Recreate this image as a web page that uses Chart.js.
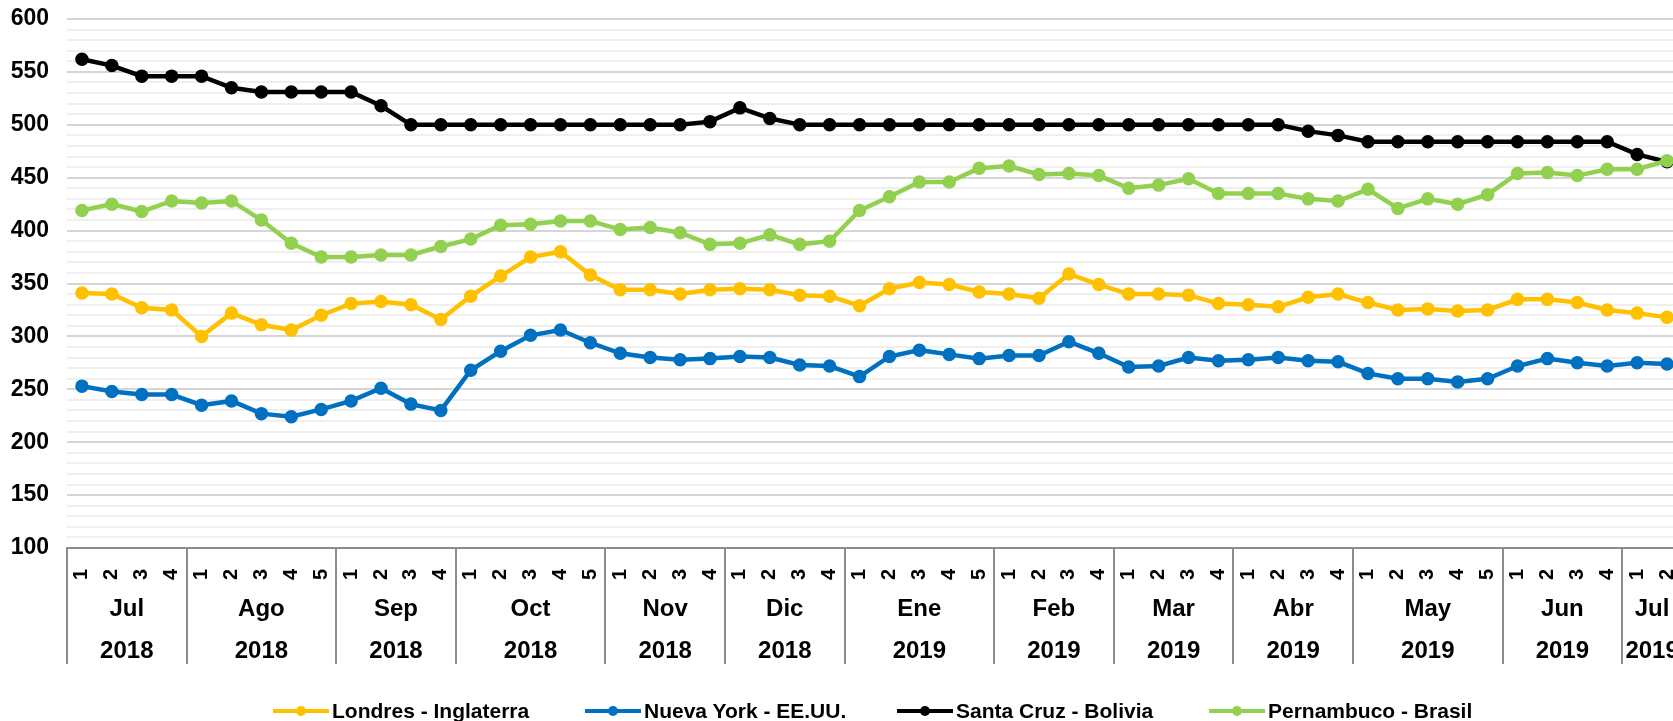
<!DOCTYPE html>
<html lang="es">
<head>
<meta charset="utf-8">
<title>Precios semanales</title>
<script src="https://cdn.jsdelivr.net/npm/chart.js@4.4.1/dist/chart.umd.min.js"></script>
<style>
    html, body { margin: 0; padding: 0; background: #fff; overflow: hidden; }
    #contenedor { position: relative; width: 1733px; height: 721px; }
    #leyenda {
        position: absolute; left: 273px; top: 699px; display: flex;
        font: bold 21px "Liberation Sans", Arial, sans-serif; color: #000;
    }
    .item { width: 312px; height: 24px; display: flex; align-items: center; white-space: nowrap; }
    .muestra { position: relative; width: 56px; height: 4px; margin-right: 3px; }
    .muestra span { position: absolute; left: 23px; top: -3px; width: 10px; height: 10px; border-radius: 50%; }
</style>
</head>
<body>
<div id="contenedor">
    <canvas id="graficoPrecios"></canvas>
    <div id="leyenda"></div>
</div>
<script>
// semanas de cada mes (eje de categorías)
const semanas = [
    '1','2','3','4',
    '1','2','3','4','5',
    '1','2','3','4',
    '1','2','3','4','5',
    '1','2','3','4',
    '1','2','3','4',
    '1','2','3','4','5',
    '1','2','3','4',
    '1','2','3','4',
    '1','2','3','4',
    '1','2','3','4','5',
    '1','2','3','4',
    '1','2'
];
const meses = ['Jul', 'Ago', 'Sep', 'Oct', 'Nov', 'Dic', 'Ene', 'Feb', 'Mar', 'Abr', 'May', 'Jun', 'Jul'];
const anios = ['2018', '2018', '2018', '2018', '2018', '2018', '2019', '2019', '2019', '2019', '2019', '2019', '2019'];
const semanasPorMes = [4, 5, 4, 5, 4, 4, 5, 4, 4, 4, 5, 4, 2];

const londres = [341, 340, 327, 325, 300, 322, 311, 306, 320, 331, 333, 330, 316,
    338, 357, 375, 380, 358, 344, 344, 340, 344, 345, 344, 339, 338,
    329, 345, 351, 349, 342, 340, 336, 359, 349, 340, 340, 339, 331,
    330, 328, 337, 340, 332, 325, 326, 324, 325, 335, 335, 332, 325, 322, 318];
const nuevaYork = [253, 248, 245, 245, 235, 239, 227, 224, 231, 239, 251, 236, 230,
    268, 286, 301, 306, 294, 284, 280, 278, 279, 281, 280, 273, 272,
    262, 281, 287, 283, 279, 282, 282, 295, 284, 271, 272, 280, 277,
    278, 280, 277, 276, 265, 260, 260, 257, 260, 272, 279, 275, 272, 275, 274];
const santaCruz = [562, 556, 546, 546, 546, 535, 531, 531, 531, 531, 518, 500, 500,
    500, 500, 500, 500, 500, 500, 500, 500, 503, 516, 506, 500, 500,
    500, 500, 500, 500, 500, 500, 500, 500, 500, 500, 500, 500, 500,
    500, 500, 494, 490, 484, 484, 484, 484, 484, 484, 484, 484, 484, 472, 465];
const pernambuco = [419, 425, 418, 428, 426, 428, 410, 388, 375, 375, 377, 377, 385,
    392, 405, 406, 409, 409, 401, 403, 398, 387, 388, 396, 387, 390,
    419, 432, 446, 446, 459, 461, 453, 454, 452, 440, 443, 449, 435,
    435, 435, 430, 428, 439, 421, 430, 425, 434, 454, 455, 452, 458, 458, 466];

// inicio y centro de cada mes, en índices de categoría
const iniciosMes = [];
const centrosMes = [];
let acumulado = 0;
semanasPorMes.forEach(n => {
    iniciosMes.push(acumulado);
    centrosMes.push(acumulado + n / 2 - 0.5);
    acumulado += n;
});

const FUENTE = '"Liberation Sans", Arial, sans-serif';
Chart.defaults.font.family = FUENTE;
Chart.defaults.color = '#000';

function serie(nombre, datos, color, orden) {
    return {
        label: nombre,
        data: datos,
        borderColor: color,
        backgroundColor: color,
        pointBackgroundColor: color,
        pointBorderColor: color,
        borderWidth: 4.5,
        pointRadius: 6,
        pointBorderWidth: 1.5,
        tension: 0,
        order: orden
    };
}

const ctx = document.getElementById('graficoPrecios').getContext('2d');
const chart = new Chart(ctx, {
    type: 'line',
    data: {
        labels: semanas,
        datasets: [
            serie('Londres - Inglaterra', londres, '#FFC000', 4),
            serie('Nueva York - EE.UU.', nuevaYork, '#0070C0', 3),
            serie('Santa Cruz - Bolivia', santaCruz, '#000000', 2),
            serie('Pernambuco - Brasil', pernambuco, '#92D050', 1)
        ]
    },
    options: {
        responsive: true,
        maintainAspectRatio: false,
        animation: false,
        layout: { padding: { top: 19, right: 51, bottom: 57, left: 0 } },
        plugins: {
            legend: { display: false },
            tooltip: { enabled: false }
        },
        scales: {
            y: {
                min: 100,
                max: 600,
                border: { display: false },
                grid: {
                    drawTicks: false,
                    lineWidth: 2,
                    color: c => (c.tick && c.tick.value % 50 === 0) ? '#d6d6d6' : '#efefef'
                },
                ticks: {
                    stepSize: 10,
                    autoSkip: false,
                    padding: 18,
                    font: { size: 23, weight: 'bold' },
                    callback: v => v % 50 === 0 ? v : ''
                },
                afterFit: s => {
                    s.width = 67;
                    // que el área del gráfico empiece justo en la línea de 600
                    s.paddingTop = 0;
                    s.paddingBottom = 0;
                }
            },
            x: {
                type: 'category',
                offset: true,
                border: { color: '#8c8c8c', width: 2 },
                grid: {
                    offset: true,
                    drawOnChartArea: false,
                    drawTicks: true,
                    tickLength: 116,
                    lineWidth: 2,
                    color: c => iniciosMes.includes(c.index) ? '#8c8c8c' : 'rgba(0,0,0,0)'
                },
                ticks: {
                    autoSkip: false,
                    minRotation: 90,
                    maxRotation: 90,
                    padding: -95,
                    font: { size: 20, weight: 'bold' }
                },
                afterFit: s => { s.height = 38; }
            },
            xg: {
                type: 'linear',
                axis: 'x',
                position: 'bottom',
                weight: 1,
                min: -0.5,
                max: semanas.length - 0.5,
                border: { display: false },
                grid: { display: false, drawTicks: false },
                afterBuildTicks: s => { s.ticks = centrosMes.map(v => ({ value: v })); },
                ticks: {
                    autoSkip: false,
                    maxRotation: 0,
                    padding: 2,
                    font: { size: 24, weight: 'bold', lineHeight: 1.75 },
                    callback: (v, i) => [meses[i], anios[i]]
                },
                afterFit: s => { s.height = 78; }
            }
        }
    }
});

// leyenda en HTML con ranuras de ancho fijo, como la original
const leyenda = document.getElementById('leyenda');
chart.data.datasets.forEach(ds => {
    const item = document.createElement('div');
    item.className = 'item';
    item.innerHTML = `
        <div class="muestra" style="background:${ds.borderColor}">
            <span style="background:${ds.borderColor}"></span>
        </div>
        <span>${ds.label}</span>`;
    leyenda.appendChild(item);
});
</script>
</body>
</html>
